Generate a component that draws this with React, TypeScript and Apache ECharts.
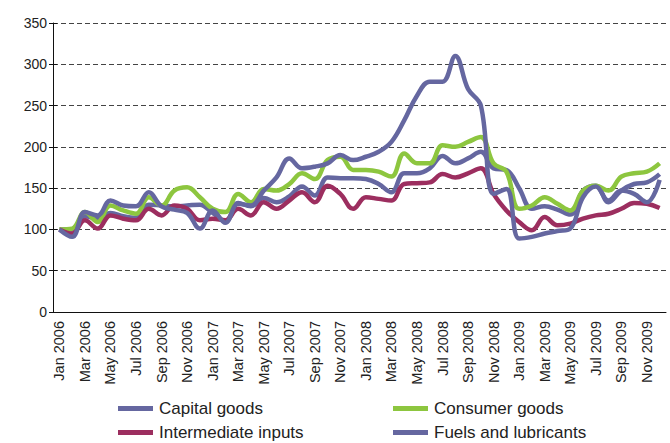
import React, { useEffect, useRef } from "react";
import * as echarts from "echarts";

const monthNames = ["Jan", "Feb", "Mar", "Apr", "May", "Jun", "Jul", "Aug", "Sep", "Oct", "Nov", "Dec"];
const years = [2006, 2007, 2008, 2009];
const categories: string[] = [];
years.forEach((y) => monthNames.forEach((m) => categories.push(`${m} ${y}`)));

const capitalGoods = [100, 100, 116, 113, 120, 116, 114, 130, 129, 128, 129, 130, 120, 110, 132, 128, 138, 133, 140, 152, 141, 163, 162, 162, 161, 155, 145, 168, 168, 174, 189, 180, 186, 194, 174, 172, 150, 125, 128, 124, 118, 147, 153, 133, 147, 155, 157, 167];
const consumerGoods = [100, 101, 121, 109, 129, 123, 119, 139, 129, 147, 151, 139, 125, 121, 143, 133, 149, 147, 155, 168, 161, 184, 188, 172, 172, 170, 164, 192, 180, 180, 202, 200, 206, 212, 180, 170, 125, 129, 139, 131, 123, 147, 153, 147, 164, 168, 170, 180];
const intermediateInputs = [100, 95, 111, 101, 117, 113, 111, 125, 117, 129, 125, 111, 113, 111, 125, 117, 133, 125, 135, 145, 133, 153, 143, 125, 139, 137, 135, 155, 156, 157, 167, 163, 168, 174, 143, 123, 109, 99, 115, 105, 107, 113, 117, 119, 125, 132, 131, 126];
const fuelsLubricants = [100, 91, 121, 117, 135, 129, 128, 145, 128, 124, 120, 101, 123, 108, 131, 129, 147, 163, 186, 174, 176, 180, 190, 184, 188, 194, 206, 232, 262, 279, 279, 310, 270, 250, 143, 149, 89, 91, 95, 98, 101, 139, 152, 135, 147, 143, 133, 160];

const seriesNames = ["Capital goods", "Consumer goods", "Intermediate inputs", "Fuels and lubricants"];
const seriesColors = ["#6567a0", "#8dc63f", "#9c2e5f", "#6567a0"];
const seriesData = [capitalGoods, consumerGoods, intermediateInputs, fuelsLubricants];

const FONT = "'Liberation Sans', Arial, Helvetica, sans-serif";

export default function App() {
  const ref = useRef<HTMLDivElement>(null);
  useEffect(() => {
    if (!ref.current) return;
    const chart = echarts.init(ref.current, undefined, { renderer: "svg" });
    const legendCommon = {
      orient: "vertical" as const,
      icon: "rect",
      itemWidth: 35,
      itemHeight: 5,
      itemGap: 7,
      top: 400,
      textStyle: { fontFamily: FONT, fontSize: 17, color: "#222", lineHeight: 16, padding: [0, 0, 0, 1] },
      padding: 0,
    };
    chart.setOption({
      animation: false,
      backgroundColor: "#ffffff",
      grid: { left: 53, right: 4, top: 23, bottom: 131, containLabel: false },
      legend: [
        { ...legendCommon, left: 118, data: [seriesNames[0], seriesNames[2]] },
        { ...legendCommon, left: 393, data: [seriesNames[1], seriesNames[3]] },
      ],
      xAxis: {
        type: "category",
        data: categories,
        boundaryGap: true,
        axisLine: { lineStyle: { color: "#111", width: 1 } },
        axisTick: { interval: 1, length: 5, lineStyle: { color: "#111" } },
        axisLabel: {
          interval: 1,
          rotate: 90,
          fontFamily: FONT,
          fontSize: 14.5,
          color: "#222",
          margin: 9,
        },
        splitLine: { show: false },
      },
      yAxis: [
        {
          type: "value",
          min: 0,
          max: 350,
          interval: 50,
          axisLine: { show: true, lineStyle: { color: "#111", width: 1 } },
          axisTick: { show: true, length: 4, lineStyle: { color: "#111" } },
          axisLabel: { fontFamily: FONT, fontSize: 14, color: "#222", margin: 6 },
          splitLine: { show: true, lineStyle: { color: "#444", type: [5, 3], width: 1 } },
        },
        {
          type: "value",
          position: "left",
          min: 0,
          max: 350,
          interval: 50,
          axisLine: { show: false },
          axisTick: { show: true, inside: true, length: 4, lineStyle: { color: "#111" } },
          axisLabel: { show: false },
          splitLine: { show: false },
        },
      ],
      series: seriesData.map((d, i) => ({
        name: seriesNames[i],
        type: "line",
        data: d,
        smooth: 0.4,
        showSymbol: false,
        symbol: "none",
        yAxisIndex: 0,
        itemStyle: { color: seriesColors[i] },
        lineStyle: { color: seriesColors[i], width: 4.5 },
        z: i === 3 ? 5 : 3,
      })),
    });
    return () => chart.dispose();
  }, []);
  return (
    <div
      ref={ref}
      style={{ position: "fixed", left: 0, top: 0, width: 670, height: 443, background: "#fff" }}
    />
  );
}
